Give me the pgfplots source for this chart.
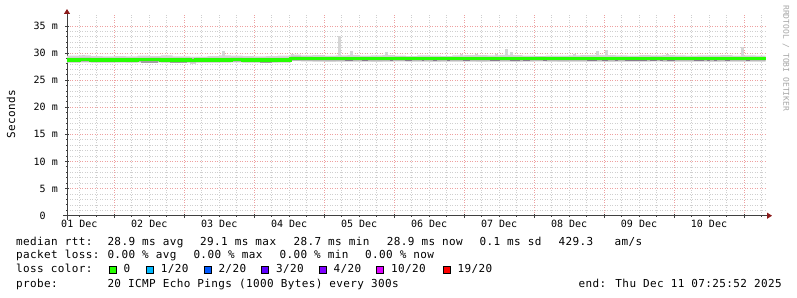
\documentclass[border=0pt]{standalone}
\usepackage{fontspec}
\setmainfont{DejaVu Sans Mono}
\newfontfamily\legfont{DejaVu Sans Mono}[LetterSpace=3.5]
\usepackage{pgfplots}
\usepackage{pgfplotstable}
\pgfplotsset{compat=1.18}
\usepgfplotslibrary{fillbetween}
\usetikzlibrary{arrows.meta}

\definecolor{mgrid}{HTML}{EEA0A0}
\definecolor{ngrid}{HTML}{CFCFCF}
\definecolor{smokeA}{HTML}{D6D6D6}
\definecolor{smokeB}{HTML}{B8B8B8}
\definecolor{smokeD}{HTML}{8A7A92}
\definecolor{smokeE}{HTML}{A0A0A0}
\definecolor{medc}{HTML}{26FF00}
\definecolor{axred}{HTML}{8B1A1A}
\definecolor{lc1}{HTML}{00B8FF}
\definecolor{lc2}{HTML}{0059FF}
\definecolor{lc3}{HTML}{5E00FF}
\definecolor{lc4}{HTML}{7E00FF}
\definecolor{lc10}{HTML}{DD00FF}
\definecolor{lc19}{HTML}{FF0000}

\newcommand{\LF}{\legfont\fontsize{11pt}{13pt}\selectfont}
\newcommand{\AF}{\fontsize{10pt}{12pt}\selectfont}
\newcommand{\lbox}[1]{{\setlength{\fboxsep}{0pt}\setlength{\fboxrule}{0.8pt}\fcolorbox{black}{#1}{\rule{0pt}{6.4pt}\hspace{6.4pt}}}}

% time in hours since 01 Dec 00:00, values in ms
\pgfplotstableread{
t med lo hi ilo ihi
7.78 28.74 28.25 29.50 28.30 29.12
12 28.76 28.30 29.55 28.32 29.14
16 28.74 28.25 29.45 28.30 29.12
20 28.72 28.25 29.40 28.28 29.10
24 28.74 28.30 29.45 28.30 29.12
28 28.72 28.25 29.40 28.28 29.10
32 28.75 28.30 29.50 28.31 29.13
36 28.76 28.30 29.45 28.32 29.14
40 28.74 28.25 29.55 28.30 29.12
44 28.72 28.25 29.40 28.28 29.10
48 28.73 28.25 29.40 28.29 29.11
50 28.68 28.00 29.35 28.24 29.06
52 28.72 28.25 29.35 28.28 29.10
56 28.72 28.25 29.45 28.28 29.10
60 28.74 28.30 29.55 28.30 29.12
64 28.76 28.30 29.50 28.32 29.14
68 28.74 28.25 29.45 28.30 29.12
72 28.73 28.25 29.40 28.29 29.11
76 28.72 28.25 29.45 28.28 29.10
80 28.73 28.30 29.50 28.29 29.11
84.5 29.02 28.50 29.70 28.55 29.38
88 28.98 28.45 29.55 28.51 29.34
92 28.95 28.45 29.60 28.48 29.31
96 28.94 28.40 29.50 28.47 29.30
100 28.95 28.45 29.55 28.48 29.31
104 28.93 28.45 29.60 28.46 29.29
108 28.95 28.45 29.50 28.48 29.31
112 28.94 28.40 29.55 28.47 29.30
116 28.95 28.45 29.60 28.48 29.31
120 28.96 28.45 29.50 28.49 29.32
124 28.94 28.45 29.45 28.47 29.30
128 28.95 28.45 29.55 28.48 29.31
132 28.93 28.40 29.50 28.46 29.29
136 28.95 28.45 29.45 28.48 29.31
140 28.94 28.45 29.55 28.47 29.30
144 28.95 28.45 29.60 28.48 29.31
148 28.94 28.40 29.60 28.47 29.30
152 28.95 28.45 29.55 28.48 29.31
156 28.93 28.45 29.65 28.46 29.29
160 28.94 28.40 29.60 28.47 29.30
164 28.95 28.45 29.50 28.48 29.31
168 28.96 28.45 29.45 28.49 29.32
172 28.95 28.45 29.50 28.48 29.31
176 28.94 28.40 29.50 28.47 29.30
180 28.95 28.45 29.55 28.48 29.31
184 28.94 28.45 29.60 28.47 29.30
188 28.95 28.45 29.65 28.48 29.31
192 28.93 28.40 29.60 28.46 29.29
196 28.95 28.45 29.55 28.48 29.31
200 28.94 28.45 29.50 28.47 29.30
204 28.95 28.45 29.60 28.48 29.31
208 28.96 28.45 29.55 28.49 29.32
212 28.94 28.40 29.60 28.47 29.30
216 28.95 28.45 29.55 28.48 29.31
220 28.94 28.45 29.50 28.47 29.30
224 28.95 28.45 29.55 28.48 29.31
228 28.94 28.40 29.55 28.47 29.30
232 28.95 28.45 29.60 28.48 29.31
236 28.94 28.45 29.50 28.47 29.30
240 28.95 28.45 29.55 28.48 29.31
244 28.94 28.45 29.50 28.47 29.30
247.4 28.94 28.45 29.50 28.47 29.30
}\smoke

\pgfplotstableread{
t base up
13.3 29.4 0.3
61.3 29.4 1.0
85.3 29.4 0.5
101.4 29.4 3.8
105.5 29.4 1.0
117.5 29.4 0.7
143.0 29.4 0.5
148.1 29.4 0.5
155.0 29.4 0.4
158.7 29.4 1.4
160.4 29.4 0.7
182.0 29.4 0.4
189.6 29.4 1.0
192.7 29.4 1.1
213.6 29.4 0.5
239.6 29.4 1.8
}\spikes

\pgfplotstableread{
t y
103.1 28.6
105.9 28.6
nan nan
109.0 28.6
111.0 28.6
nan nan
118.6 28.6
119.6 28.6
nan nan
123.7 28.6
126.1 28.6
nan nan
129.5 28.6
130.2 28.6
nan nan
133.3 28.6
134.7 28.6
nan nan
138.1 28.6
139.1 28.6
nan nan
143.6 28.6
146.0 28.6
nan nan
152.9 28.6
156.3 28.6
nan nan
159.7 28.6
163.2 28.6
nan nan
164.2 28.6
166.6 28.6
nan nan
171.1 28.6
172.4 28.6
nan nan
186.2 28.6
189.6 28.6
nan nan
191.3 28.6
193.3 28.6
nan nan
195.7 28.6
196.8 28.6
nan nan
199.2 28.6
206.7 28.6
nan nan
207.8 28.6
210.2 28.6
nan nan
211.2 28.6
212.2 28.6
nan nan
213.6 28.6
216.3 28.6
nan nan
222.9 28.6
226.4 28.6
nan nan
227.4 28.6
228.4 28.6
nan nan
229.8 28.6
230.8 28.6
nan nan
233.6 28.6
235.3 28.6
nan nan
240.7 28.6
242.1 28.6
}\darkseg

\pgfplotstableread{
t y
33.0 28.36
39.0 28.36
nan nan
43.0 28.36
49.0 28.36
nan nan
74.0 28.36
78.0 28.36
}\darkgray

\begin{document}
\begin{tikzpicture}
\begin{axis}[
  scale only axis, width=700pt, height=201.7pt,
  at={(67pt,81.3pt)}, anchor=south west,
  xmin=7.78, xmax=247.9, ymin=0, ymax=37.2,
  axis lines=left,
  axis line style={draw=black!75, line width=0.9pt},
  x axis line style={shorten <=-4pt, shorten >=-5pt, -{Triangle[length=5pt,width=6pt,color=axred]}},
  y axis line style={shorten <=-4pt, shorten >=-5pt, -{Triangle[length=5pt,width=6pt,color=axred]}},
  xtick={24,48,...,240}, xticklabels={},
  minor xtick={12,18,30,36,42,54,60,66,78,84,90,102,108,114,126,132,138,150,156,162,174,180,186,198,204,210,222,228,234,246},
  extra x ticks={12,36,60,84,108,132,156,180,204,228},
  extra x tick labels={01 Dec,02 Dec,03 Dec,04 Dec,05 Dec,06 Dec,07 Dec,08 Dec,09 Dec,10 Dec},
  extra x tick style={grid=none, major tick length=0pt},
  ytick={0,5,...,35},
  yticklabels={0\hphantom{mm},5 m,10 m,15 m,20 m,25 m,30 m,35 m},
  minor y tick num=4,
  grid=both,
  major grid style={draw=mgrid, line width=0.6pt, dash pattern=on 1pt off 1.5pt},
  minor grid style={draw=ngrid, line width=0.6pt, dash pattern=on 1pt off 1.5pt},
  tick align=center, major tick length=4pt, minor tick length=2pt,
  tick style={draw=black!75, line width=0.8pt},
  xticklabel style={font=\AF, anchor=base, inner sep=0pt, yshift=-11.8pt},
  yticklabel style={font=\AF, anchor=east, inner sep=0pt, xshift=-7pt},
  /pgf/number format/assume math mode=true,
  clip=true,
]
\addplot[name path=hi, draw=none, const plot] table[x=t,y=hi]{\smoke};
\addplot[name path=lo, draw=none, const plot] table[x=t,y=lo]{\smoke};
\addplot[fill=smokeA, draw=none] fill between[of=hi and lo];
\addplot[name path=ihi, draw=none, const plot] table[x=t,y=ihi]{\smoke};
\addplot[name path=ilo, draw=none, const plot] table[x=t,y=ilo]{\smoke};
\addplot[fill=smokeB, draw=none] fill between[of=ihi and ilo];
\addplot[draw=none, mark=none,
  error bars/.cd, y dir=plus, y explicit, error mark=none,
  error bar style={draw=smokeA, line width=3pt}]
  table[x=t, y=base, y error plus=up]{\spikes};
\addplot[smokeE, line width=1.4pt, unbounded coords=jump] table[x=t,y=y]{\darkgray};
\addplot[smokeD, line width=1.4pt, unbounded coords=jump] table[x=t,y=y]{\darkseg};
\addplot[medc, line width=3.3pt, const plot] table[x=t,y=med]{\smoke};
\end{axis}

\tikzset{lg/.style={anchor=base west, inner sep=0pt, font=\LF}}
% y label
\node[rotate=90, inner sep=0pt, font=\LF] at (11pt,183pt) {Seconds};
% watermark
\node[rotate=-90, anchor=west, inner sep=0pt, text=black!35, font=\fontsize{8pt}{9pt}\selectfont] at (786pt,292pt) {RRDTOOL / TOBI OETIKER};
% legend line 1
\node[lg] at (16pt,51.7pt) {median rtt:};
\node[lg] at (107.3pt,51.7pt) {28.9 ms avg};
\node[lg] at (200pt,51.7pt) {29.1 ms max};
\node[lg] at (293.3pt,51.7pt) {28.7 ms min};
\node[lg] at (386.7pt,51.7pt) {28.9 ms now};
\node[lg] at (479.3pt,51.7pt) {0.1 ms sd};
\node[lg] at (558.3pt,51.7pt) {429.3};
\node[lg] at (614.3pt,51.7pt) {am/s};
% legend line 2
\node[lg] at (16pt,38.3pt) {packet loss:};
\node[lg] at (107.3pt,38.3pt) {0.00 \% avg};
\node[lg] at (193.3pt,38.3pt) {0.00 \% max};
\node[lg] at (279.3pt,38.3pt) {0.00 \% min};
\node[lg] at (365pt,38.3pt) {0.00 \% now};
% legend line 3
\node[lg] at (16pt,24pt) {loss color:};
\node[lg] at (108.3pt,24pt) {\lbox{medc}};
\node[lg] at (123.3pt,24pt) {0};
\node[lg] at (145.7pt,24pt) {\lbox{lc1}};
\node[lg] at (160.7pt,24pt) {1/20};
\node[lg] at (203.3pt,24pt) {\lbox{lc2}};
\node[lg] at (218.3pt,24pt) {2/20};
\node[lg] at (261pt,24pt) {\lbox{lc3}};
\node[lg] at (276pt,24pt) {3/20};
\node[lg] at (318.3pt,24pt) {\lbox{lc4}};
\node[lg] at (333.3pt,24pt) {4/20};
\node[lg] at (376pt,24pt) {\lbox{lc10}};
\node[lg] at (391pt,24pt) {10/20};
\node[lg] at (442.7pt,24pt) {\lbox{lc19}};
\node[lg] at (457.3pt,24pt) {19/20};
% legend line 4
\node[lg] at (16pt,10pt) {probe:};
\node[lg] at (107.3pt,10pt) {20 ICMP Echo Pings (1000 Bytes) every 300s};
\node[lg] at (578.3pt,10pt) {end: Thu Dec 11 07:25:52 2025};

\pgfresetboundingbox
\path[use as bounding box] (0pt,0pt) rectangle (797pt,297pt);
\end{tikzpicture}
\end{document}
